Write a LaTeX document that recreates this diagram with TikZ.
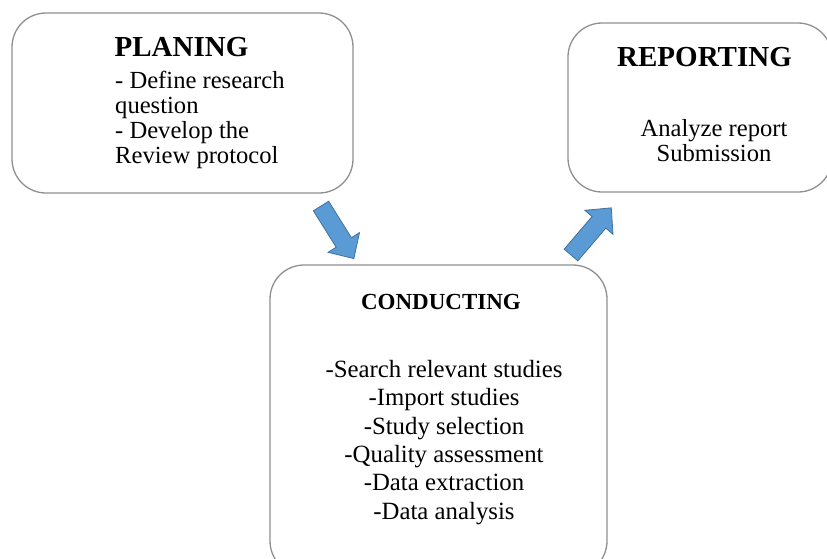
\documentclass[tikz,border=0pt]{standalone}
\usepackage{fontspec}
\setmainfont{Liberation Serif}
\usetikzlibrary{positioning}
\definecolor{arrowfill}{HTML}{5B9BD5}
\definecolor{arrowline}{HTML}{41719C}
\definecolor{boxline}{HTML}{8F8F8F}

\tikzset{
  phasebox/.style={draw=boxline, line width=1.3pt, rounded corners=34pt, inner sep=0pt},
  phasetitle/.style={font=\fontsize{29}{30}\selectfont\bfseries, inner sep=0pt, anchor=base},
  phasetext/.style={font=\fontsize{24.6}{24.7}\selectfont, inner sep=0pt},
  flowarrow/.pic={
    \draw[fill=arrowfill, draw=arrowline, line width=0.8pt, line join=miter]
      (0,-9) -- (43,-9) -- (43,-18.5) -- (62,0) -- (43,18.5) -- (43,9) -- (0,9) -- cycle;
  }
}

\begin{document}
\begin{tikzpicture}[x=1pt, y=1pt]
    \useasboundingbox (0,0) rectangle (827,-558);

    % Phase boxes
    \node[phasebox, minimum width=341pt, minimum height=180pt] (plan) at (182.5,-103) {};
    \node[phasebox, minimum width=264pt, minimum height=169pt] (report) at (700,-107.5) {};
    \node[phasebox, minimum width=337pt, minimum height=310pt] (conduct) at (438.5,-420) {};

    % Planning (base = last line)
    \node[phasetitle] (plantitle) at (181.5,-56) {PLANING};
    \node[phasetext, align=left, anchor=base west] (planbody) at (115,-163)
        {- Define research\\question\\- Develop the\\Review protocol};

    % Reporting
    \node[phasetitle] (reporttitle) at (704.5,-66) {REPORTING};
    \node[phasetext, align=center, anchor=base] (reportbody) at (714,-161)
        {Analyze report\\Submission};

    % Conducting
    \node[phasetitle, font=\fontsize{23}{24}\selectfont\bfseries] (conducttitle) at (441,-309) {CONDUCTING};
    \node[phasetext, font=\fontsize{24.8}{28.3}\selectfont, align=center, anchor=base] (conductbody) at (444,-519)
        {-Search relevant studies\\-Import studies\\-Study selection\\-Quality assessment\\-Data extraction\\-Data analysis};

    % Flow arrows
    \coordinate (plan out) at (321,-206);
    \coordinate (report in) at (571,-255);
    \pic[rotate=-58] (toconduct) at (plan out) {flowarrow};
    \pic[rotate=49.5] (toreport) at (report in) {flowarrow};
\end{tikzpicture}
\end{document}
